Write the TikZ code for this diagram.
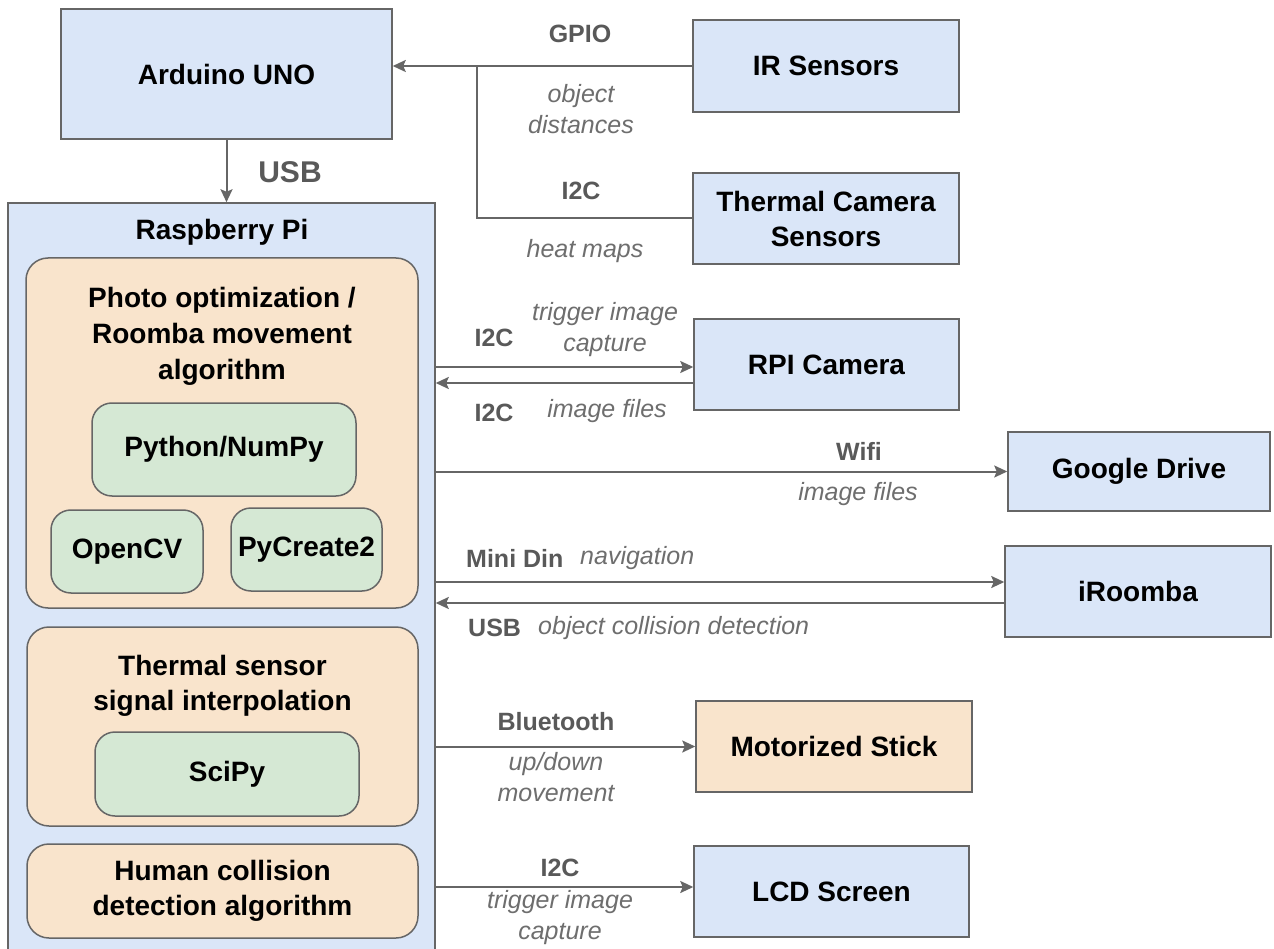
\documentclass[tikz,border=0pt]{standalone}
\usepackage{fontspec}
\setmainfont{Liberation Sans}
\usetikzlibrary{arrows.meta}
\definecolor{bfill}{RGB}{218,230,248}
\definecolor{ofill}{RGB}{249,228,204}
\definecolor{gfill}{RGB}{213,232,212}
\definecolor{edgec}{RGB}{102,102,102}
\definecolor{lblc}{RGB}{89,89,89}
\definecolor{ilblc}{RGB}{110,110,110}
\tikzset{
  box/.style={draw=edgec, line width=1.5pt, fill=bfill, inner sep=0pt, align=center,
    font=\fontsize{28}{35}\selectfont\bfseries},
  obox/.style={box, fill=ofill},
  rbox/.style={box, fill=ofill, rounded corners=22pt},
  gbox/.style={box, fill=gfill, rounded corners=20pt},
  title/.style={inner sep=0pt, align=center, font=\fontsize{28}{36}\selectfont\bfseries},
  elab/.style={inner sep=0pt, align=center, text=lblc, font=\fontsize{25}{31}\selectfont\bfseries},
  ilab/.style={inner sep=0pt, align=center, text=ilblc, font=\fontsize{25}{31}\selectfont\itshape},
  conn/.style={draw=edgec, line width=2pt},
  arr/.style={conn, -{Stealth[length=13pt,width=12pt,inset=2.5pt]}}
}
\begin{document}
\begin{tikzpicture}[x=1pt,y=-1pt]
\clip (0,0) rectangle (1274,949);
\fill[white] (0,0) rectangle (1274,949);

% Raspberry Pi container
\node[box, minimum width=427, minimum height=797] (rpi) at (221.5,601.5) {};
\node[title] (rpilbl) at (222,232) {Raspberry Pi};

% Photo optimization block
\node[rbox, minimum width=392, minimum height=350] (ph) at (222,433) {};
\node[title] (phlbl) at (222,336) {Photo optimization /\\Roomba movement\\algorithm};
\node[gbox, minimum width=264, minimum height=93] (py) at (224,449.5) {Python/NumPy};
\node[gbox, minimum width=152, minimum height=83] (ocv) at (127,551.5) {OpenCV};
\node[gbox, minimum width=151, minimum height=83] (pyc) at (306.5,549.5) {PyCreate2};

% Thermal interpolation block
\node[rbox, minimum width=391, minimum height=199] (th) at (222.5,726.5) {};
\node[title, font=\fontsize{28}{35}\selectfont\bfseries] (thlbl) at (222.5,686) {Thermal sensor\\signal interpolation};
\node[gbox, minimum width=264, minimum height=84] (sci) at (227,774) {SciPy};

% Human collision block
\node[rbox, minimum width=391, minimum height=94] (hc) at (222.5,891) {Human collision\\detection algorithm};

% Arduino
\node[box, minimum width=331, minimum height=130] (ard) at (226.5,74) {Arduino UNO};

% Right side devices
\node[box, minimum width=266, minimum height=92] (ir) at (826,66) {IR Sensors};
\node[box, minimum width=266, minimum height=91] (tc) at (826,218.5) {Thermal Camera\\Sensors};
\node[box, minimum width=265, minimum height=91] (cam) at (826.5,364.5) {RPI Camera};
\node[box, minimum width=262, minimum height=79] (gd) at (1139,471.5) {Google Drive};
\node[box, minimum width=266, minimum height=91] (iro) at (1138,591.5) {iRoomba};
\node[obox, minimum width=276, minimum height=91] (stick) at (834,746.5) {Motorized Stick};
\node[box, minimum width=275, minimum height=91] (lcd) at (831.5,891.5) {LCD Screen};

% Connectors
\draw[arr] (ard.south) -- (ard.south |- rpi.north);
\node[elab, font=\fontsize{30}{36}\selectfont\bfseries] (usb1) at (290,172) {USB};

\draw[arr] (ir.west) -- (ir.west -| ard.east);
\coordinate (j) at (477,66);
\draw[conn] (tc.west) -| (j);
\node[elab] (gpio) at (580,34) {GPIO};
\node[ilab] (objd) at (581,109) {object\\distances};
\node[elab] (i2ca) at (581,191) {I2C};
\node[ilab] (heat) at (585,251) {heat maps};

\draw[arr] (rpi.east |- 0,367) -- (cam.west |- 0,367);
\draw[arr] (cam.west |- 0,383) -- (rpi.east |- 0,383);
\node[elab] (i2cb) at (494,338) {I2C};
\node[ilab] (trig1) at (605,330) {trigger image\\capture};
\node[elab] (i2cc) at (494,413) {I2C};
\node[ilab] (imf1) at (607,411) {image files};

\draw[arr] (rpi.east |- gd.west) -- (gd.west);
\node[elab] (wifi) at (859,451) {Wifi};
\node[ilab] (imf2) at (858,494) {image files};

\draw[arr] (rpi.east |- 0,582) -- (iro.west |- 0,582);
\draw[arr] (iro.west |- 0,603) -- (rpi.east |- 0,603);
\node[elab, anchor=west] (mdin) at (466,558) {Mini Din};
\node[ilab, anchor=west] (nav) at (580,558) {navigation};
\node[elab, anchor=west] (usb2) at (468,628) {USB};
\node[ilab, anchor=west] (ocd) at (538,628) {object collision detection};

\draw[arr] (rpi.east |- stick.west) -- (stick.west);
\node[elab] (bt) at (556,722) {Bluetooth};
\node[ilab] (upd) at (556,777) {up/down\\movement};

\draw[arr] (rpi.east |- 0,887) -- (lcd.west |- 0,887);
\node[elab] (i2cd) at (560,868) {I2C};
\node[ilab] (trig2) at (560,918) {trigger image\\capture};
\end{tikzpicture}
\end{document}
